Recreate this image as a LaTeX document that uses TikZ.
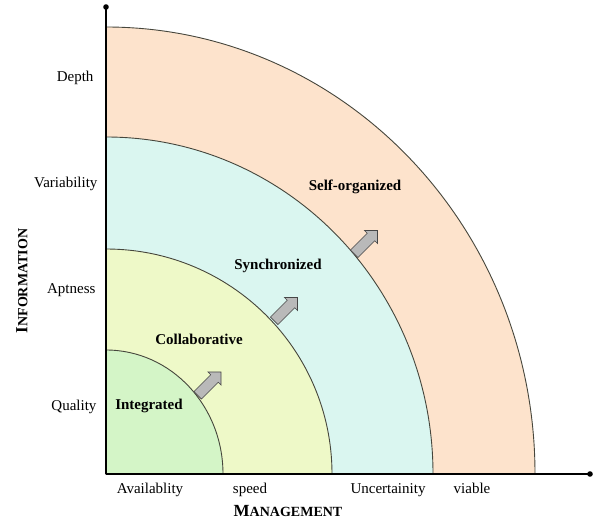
\documentclass[tikz,border=0pt]{standalone}
\usepackage{fontspec}
\setmainfont{Liberation Serif}
\usetikzlibrary{shapes.arrows}
\definecolor{cgreen}{RGB}{212,245,199}
\definecolor{cyellow}{RGB}{238,249,200}
\definecolor{ccyan}{RGB}{218,246,240}
\definecolor{cpeach}{RGB}{253,227,204}
\definecolor{cline}{RGB}{70,70,60}
\begin{document}
\begin{tikzpicture}[x=1pt,y=1pt,
  band/.style={draw=cline,line width=0.9pt},
  axislab/.style={font=\fontsize{15}{17}\selectfont,anchor=base east},
  botlab/.style={font=\fontsize{15}{17}\selectfont,anchor=base},
  zonelab/.style={font=\fontsize{15}{17}\selectfont\bfseries},
  growarrow/.style={single arrow,draw=gray!55!black,fill=gray!55,minimum height=33pt,
    single arrow head extend=4pt,inner sep=5pt,rotate=45,line width=0.6pt},
  axis/.style={line width=2.4pt,black}]
\useasboundingbox (-106,-48) rectangle (495,474);
\coordinate (O) at (0,0);
% bands, outer first
\filldraw[band,fill=cpeach] (O) -- (429,0) arc[start angle=0,end angle=90,x radius=429,y radius=447] -- cycle;
\filldraw[band,fill=ccyan] (O) -- (327,0) arc[start angle=0,end angle=90,x radius=327,y radius=337] -- cycle;
\filldraw[band,fill=cyellow] (O) -- (226,0) arc[start angle=0,end angle=90,x radius=226,y radius=225] -- cycle;
\filldraw[band,fill=cgreen] (O) -- (117,0) arc[start angle=0,end angle=90,x radius=117,y radius=124] -- cycle;
% axes
\coordinate (ytop) at (0,467);
\coordinate (xend) at (484,0);
\draw[axis] (O) -- (ytop);
\draw[axis] (O) -- (xend);
\fill (ytop) circle (2.8pt);
\fill (xend) circle (2.8pt);
% left labels
\node[axislab] (depth) at (-9,392) {Depth};
\node[axislab] (var) at (-5,286) {Variability};
\node[axislab] (apt) at (-7,180) {Aptness};
\node[axislab] (qual) at (-6,64) {Quality};
\node[rotate=90,font=\bfseries] (info) at (-84,193) {{\fontsize{17}{19}\selectfont I}{\fontsize{14}{16}\selectfont NFORMATION}};
% bottom labels
\node[botlab] (avail) at (44,-19) {Availablity};
\node[botlab] (speed) at (144,-19) {speed};
\node[botlab] (unc) at (282,-19) {Uncertainity};
\node[botlab] (viab) at (366,-19) {viable};
\node[font=\bfseries] (mgmt) at (182,-37) {{\fontsize{17}{19}\selectfont M}{\fontsize{14}{16}\selectfont ANAGEMENT}};
% zone labels
\node[zonelab] (integ) at (43,68) {Integrated};
\node[zonelab] (collab) at (93,135) {Collaborative};
\node[zonelab] (sync) at (172,208) {Synchronized};
\node[zonelab] (self) at (249,287) {Self-organized};
% arrows
\node[growarrow] (a1) at (101.5,88.5) {};
\node[growarrow] (a2) at (178,163) {};
\node[growarrow] (a3) at (258,230) {};
\end{tikzpicture}
\end{document}
